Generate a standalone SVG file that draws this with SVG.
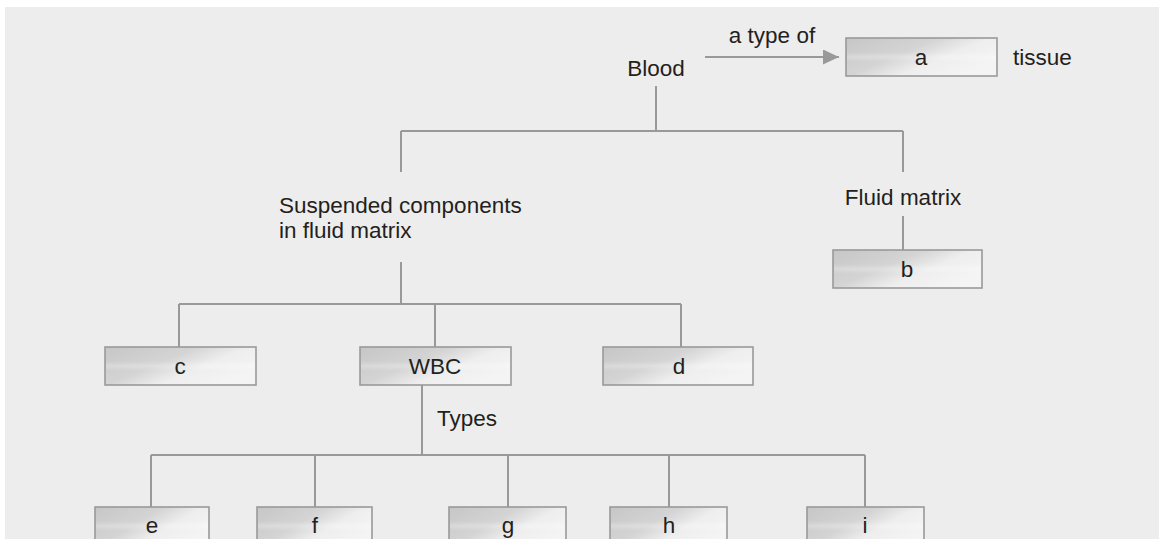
<svg xmlns="http://www.w3.org/2000/svg" width="1159" height="539" viewBox="0 0 1159 539">
<defs>
<style>
.t{font-family:"Liberation Sans",Arial,Helvetica,sans-serif;font-size:22.5px;fill:#231f20}
.m{text-anchor:middle}
.box{stroke:#999;stroke-width:1.6;fill:url(#gx)}
.hl{fill:url(#gy);stroke:none}
.c{stroke:#999;stroke-width:2;fill:none}
</style>
<linearGradient id="gx" x1="0" y1="0" x2="1" y2="0.6">
<stop offset="0" stop-color="#c6c6c6"/>
<stop offset="0.45" stop-color="#d4d4d4"/>
<stop offset="0.7" stop-color="#eeeeee"/>
<stop offset="1" stop-color="#f4f4f4"/>
</linearGradient>
<linearGradient id="gy" x1="0" y1="0" x2="0" y2="1">
<stop offset="0" stop-color="#fff" stop-opacity="0"/>
<stop offset="0.5" stop-color="#fff" stop-opacity="0.25"/>
<stop offset="1" stop-color="#fff" stop-opacity="0"/>
</linearGradient>
<marker id="ah" viewBox="0 0 16 15" refX="16" refY="7.5" markerWidth="16" markerHeight="15" orient="auto" markerUnits="userSpaceOnUse">
<path d="M0,0 L16,7.5 L0,15 z" fill="#999"/>
</marker>
</defs>
<rect x="0" y="0" width="1159" height="539" fill="#fff"/>
<rect x="5" y="7" width="1154" height="532" fill="#ededed"/>

<g id="connectors">
<line class="c" x1="705" y1="57" x2="839" y2="57" stroke-width="2.4" marker-end="url(#ah)"/>
<path class="c" d="M656,86 V131 M401,131 H903 M401,131 V172 M903,131 V172"/>
<path class="c" d="M903,216 V250"/>
<path class="c" d="M401,262 V304 M179,304 H681 M179,304 V347 M435,304 V347 M681,304 V347"/>
<path class="c" d="M422,385 V455 M151,455 H865 M151,455 V507 M315,455 V507 M508,455 V507 M669,455 V507 M865,455 V507"/>
</g>

<g id="label-typeof"><text class="t m" x="772" y="43">a type of</text></g>
<g id="node-blood"><text class="t m" x="656" y="76">Blood</text></g>
<g id="node-a"><rect class="box" x="846" y="38" width="151" height="38"/><rect class="hl" x="847" y="52" width="149" height="10"/><text class="t m" x="921" y="65">a</text></g>
<g id="label-tissue"><text class="t" x="1013" y="65">tissue</text></g>
<g id="node-suspended"><text class="t" x="279" y="213">Suspended components</text><text class="t" x="279" y="238">in fluid matrix</text></g>
<g id="node-fluid"><text class="t m" x="903" y="205">Fluid matrix</text></g>
<g id="node-b"><rect class="box" x="833" y="250" width="149" height="38"/><rect class="hl" x="834" y="264" width="147" height="10"/><text class="t m" x="907" y="277">b</text></g>
<g id="node-c"><rect class="box" x="105" y="347" width="151" height="38"/><rect class="hl" x="106" y="361" width="149" height="10"/><text class="t m" x="180" y="374">c</text></g>
<g id="node-wbc"><rect class="box" x="360" y="347" width="151" height="38"/><rect class="hl" x="361" y="361" width="149" height="10"/><text class="t m" x="435" y="374">WBC</text></g>
<g id="node-d"><rect class="box" x="603" y="347" width="150" height="38"/><rect class="hl" x="604" y="361" width="148" height="10"/><text class="t m" x="679" y="374">d</text></g>
<g id="label-types"><text class="t" x="437" y="426">Types</text></g>
<g id="node-e"><rect class="box" x="95" y="507" width="114" height="40"/><rect class="hl" x="96" y="521" width="112" height="10"/><text class="t m" x="152" y="533">e</text></g>
<g id="node-f"><rect class="box" x="257" y="507" width="115" height="40"/><rect class="hl" x="258" y="521" width="113" height="10"/><text class="t m" x="315" y="533">f</text></g>
<g id="node-g"><rect class="box" x="449" y="507" width="117" height="40"/><rect class="hl" x="450" y="521" width="115" height="10"/><text class="t m" x="508" y="533">g</text></g>
<g id="node-h"><rect class="box" x="610" y="507" width="117" height="40"/><rect class="hl" x="611" y="521" width="115" height="10"/><text class="t m" x="669" y="533">h</text></g>
<g id="node-i"><rect class="box" x="807" y="507" width="117" height="40"/><rect class="hl" x="808" y="521" width="115" height="10"/><text class="t m" x="865" y="533">i</text></g>
</svg>
